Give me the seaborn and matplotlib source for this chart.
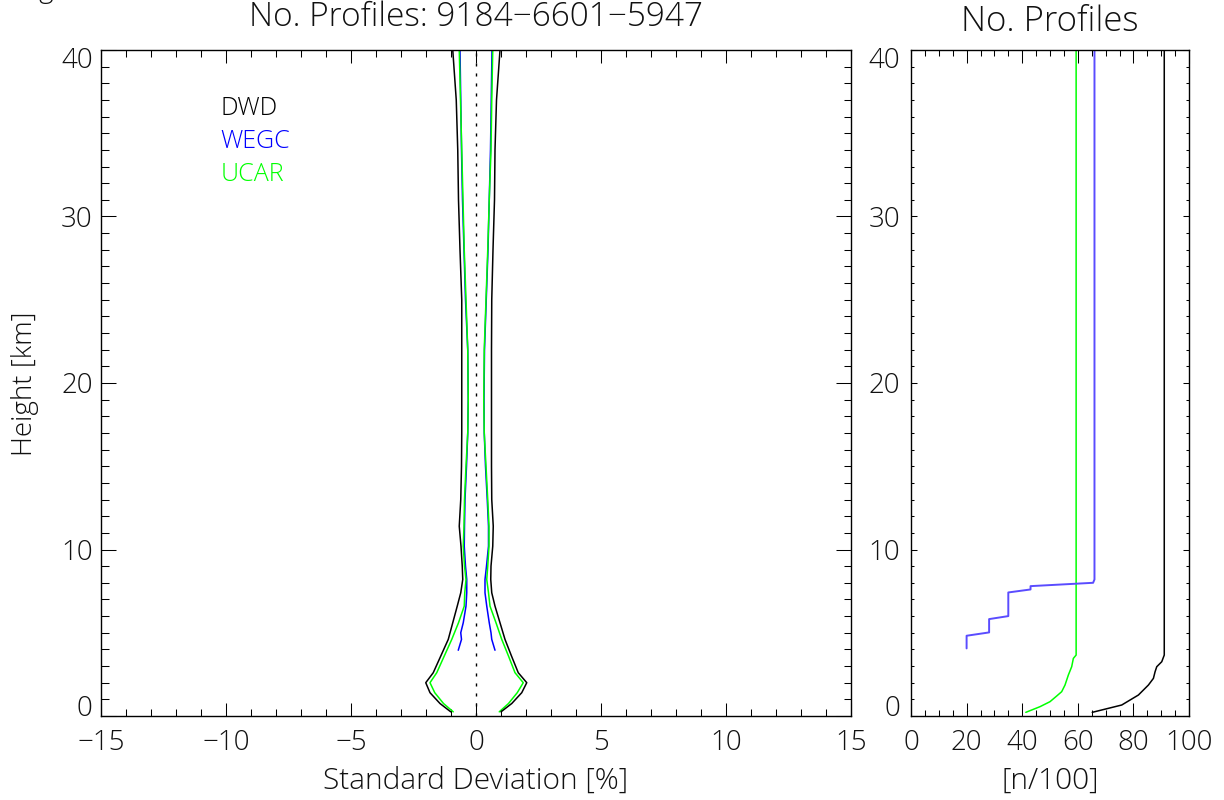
import numpy as np
import pandas as pd
import matplotlib
matplotlib.use("Agg")
import matplotlib.pyplot as plt
import matplotlib.transforms as mtransforms
from matplotlib.ticker import MultipleLocator, FixedLocator
import seaborn as sns

# ---------------- data ----------------
heights = [0.25, 0.75, 1.4, 2.0, 2.6, 3.6, 4.6, 5.6, 6.6, 7.4, 8.2, 9.0, 10.2,
           11.4, 13.0, 15, 17, 19, 22, 25, 28, 31, 34, 37, 40]
dwd_low = [-1.01, -1.44, -1.84, -2.01, -1.71, -1.41, -1.11, -0.93, -0.75, -0.61,
           -0.53, -0.55, -0.60, -0.67, -0.61, -0.58, -0.57, -0.57, -0.57, -0.57,
           -0.64, -0.70, -0.73, -0.79, -0.93]
dwd_up = [1.00, 1.43, 1.83, 2.03, 1.69, 1.42, 1.16, 0.96, 0.76, 0.63, 0.59, 0.60,
          0.67, 0.69, 0.63, 0.62, 0.62, 0.62, 0.62, 0.63, 0.68, 0.74, 0.76, 0.82, 0.96]
ucar_low = [-0.91, -1.30, -1.65, -1.84, -1.57, -1.27, -0.97, -0.70, -0.47, -0.45,
            -0.40, -0.46, -0.51, -0.48, -0.46, -0.40, -0.33, -0.31, -0.33, -0.40,
            -0.47, -0.52, -0.57, -0.62, -0.67]
ucar_up = [0.93, 1.30, 1.65, 1.89, 1.56, 1.30, 1.03, 0.80, 0.56, 0.50, 0.43, 0.47,
           0.52, 0.52, 0.47, 0.40, 0.33, 0.31, 0.33, 0.40, 0.47, 0.53, 0.60, 0.63, 0.67]

wegc_heights = [3.95, 4.6, 5.0, 5.6, 6.6, 7.4, 8.2, 9.0, 10.2, 11.4, 13.0, 15, 17,
                19, 22, 25, 28, 31, 34, 37, 40]
wegc_low = [-0.71, -0.58, -0.61, -0.51, -0.40, -0.37, -0.37, -0.42, -0.47, -0.46,
            -0.44, -0.38, -0.33, -0.31, -0.33, -0.42, -0.48, -0.54, -0.58, -0.61, -0.64]
wegc_up = [0.76, 0.63, 0.60, 0.53, 0.43, 0.36, 0.36, 0.42, 0.50, 0.50, 0.45, 0.38,
           0.33, 0.32, 0.34, 0.41, 0.48, 0.53, 0.58, 0.61, 0.64]

# number of profiles [n/100]
n_dwd_h = [0.22, 0.66, 1.26, 1.86, 2.26, 2.66, 2.96, 3.26, 3.66, 40.0]
n_dwd = [65.2, 75.8, 81.8, 85.4, 87.2, 87.8, 88.4, 90.2, 91.1, 91.1]
n_wegc_h = [4.06, 4.82, 5.02, 5.82, 6.0, 7.42, 7.6, 7.8, 8.0, 8.2, 40.0]
n_wegc = [20.0, 20.0, 28.1, 28.1, 35.0, 35.0, 43.0, 43.0, 65.5, 66.0, 66.0]
n_ucar_h = [0.22, 0.56, 0.86, 1.2, 1.46, 1.86, 2.46, 2.96, 3.46, 3.66, 40.0]
n_ucar = [41.3, 46.4, 50.0, 52.4, 54.2, 55.4, 56.6, 57.8, 58.4, 59.4, 59.4]

names = ["DWD", "WEGC", "UCAR"]
colors = ["black", "#0000ff", "#00ff00"]
title_left = "No. Profiles: 9184\u22126601\u22125947"
title_right = "No. Profiles"
xlabel_left = "Standard Deviation [%]"
xlabel_right = "[n/100]"
ylabel = "Height [km]"
left_xticks = [-15, -10, -5, 0, 5, 10, 15]
right_xticks = [0, 20, 40, 60, 80, 100]
yticks = [0, 10, 20, 30, 40]

# ---------------- style ----------------
sns.set_theme(style="white")
plt.rcParams["font.family"] = ["Open Sans", "DejaVu Sans"]
plt.rcParams["font.weight"] = "light"
plt.rcParams["axes.unicode_minus"] = True
plt.rcParams["text.color"] = "#111111"
plt.rcParams["xtick.color"] = "black"
plt.rcParams["ytick.color"] = "black"
TXT = "#111111"

W, H = 1224, 800
fig = plt.figure(figsize=(W / 100, H / 100), dpi=100)
ax1 = fig.add_axes([101 / W, 84 / H, 750 / W, 666 / H])
ax2 = fig.add_axes([911 / W, 84 / H, 278 / W, 666 / H])

def draw(ax, x, y, color, lw):
    df = pd.DataFrame({"x": x, "y": y})
    sns.lineplot(data=df, x="x", y="y", sort=False, estimator=None,
                 color=color, lw=lw, ax=ax)

# left panel
ax1.axvline(0, color="black", lw=1.0, ls=(0, (2.2, 5)))
draw(ax1, wegc_low, wegc_heights, colors[1], 1.1)
draw(ax1, wegc_up, wegc_heights, colors[1], 1.1)
draw(ax1, ucar_low, heights, colors[2], 1.1)
draw(ax1, ucar_up, heights, colors[2], 1.1)
draw(ax1, dwd_low, heights, colors[0], 1.1)
draw(ax1, dwd_up, heights, colors[0], 1.1)

# right panel
draw(ax2, n_dwd, n_dwd_h, colors[0], 1.1)
draw(ax2, n_ucar, n_ucar_h, colors[2], 1.1)
draw(ax2, n_wegc, n_wegc_h, "#5a4cff", 1.4)

fs_tick = 20
for ax in (ax1, ax2):
    ax.set_ylim(0, 40)
    ax.set_xlabel("")
    ax.set_ylabel("")
    for s in ax.spines.values():
        s.set_visible(True)
        s.set_color("black")
        s.set_linewidth(1.0)
    ax.yaxis.set_major_locator(FixedLocator(yticks))
    ax.yaxis.set_minor_locator(MultipleLocator(1))

ax1.set_xlim(-15, 15)
ax1.xaxis.set_major_locator(FixedLocator(left_xticks))
ax1.xaxis.set_minor_locator(MultipleLocator(1))
ax2.set_xlim(0, 100)
ax2.xaxis.set_major_locator(FixedLocator(right_xticks))
ax2.xaxis.set_minor_locator(MultipleLocator(5))

common = dict(direction="in", top=True, right=True, bottom=True, left=True,
              colors="black", width=0.75)
ax1.tick_params(axis="x", which="major", length=9.4, pad=9, labelsize=fs_tick, labelcolor=TXT, **common)
ax1.tick_params(axis="x", which="minor", length=5, **common)
ax1.tick_params(axis="y", which="major", length=10.8, pad=6, labelsize=fs_tick, labelcolor=TXT, **common)
ax1.tick_params(axis="y", which="minor", length=5.4, **common)
ax2.tick_params(axis="x", which="major", length=9.4, pad=9, labelsize=fs_tick, labelcolor=TXT, **common)
ax2.tick_params(axis="x", which="minor", length=4.5, **common)
ax2.tick_params(axis="y", which="major", length=4.0, pad=8, labelsize=fs_tick, labelcolor=TXT, **common)
ax2.tick_params(axis="y", which="minor", length=2.0, **common)

ax1.set_xticklabels([f"{v}".replace("-", "\u2212") for v in left_xticks])
ax2.set_xticklabels([str(v) for v in right_xticks])
ax1.set_yticklabels([str(v) for v in yticks])
ax2.set_yticklabels([str(v) for v in yticks])

# IDL-style: end labels kept inside the axis range
for ax in (ax1, ax2):
    for t in ax.yaxis.get_major_ticks():
        lab = t.label1
        if lab.get_text() == "0":
            lab.set_transform(lab.get_transform() + mtransforms.ScaledTranslation(0, 11 / 100, fig.dpi_scale_trans))
        elif lab.get_text() == "40":
            lab.set_transform(lab.get_transform() + mtransforms.ScaledTranslation(0, -8 / 100, fig.dpi_scale_trans))

# labels
fig.text(476 / W, 1 - 781 / H, xlabel_left, ha="center", va="center", fontsize=21.5)
fig.text(1050 / W, 1 - 781 / H, xlabel_right, ha="center", va="center", fontsize=21.5)
fig.text(25 / W, 1 - 384 / H, ylabel, ha="center", va="center", rotation=90, fontsize=20)
fig.text(476 / W, 1 - 17 / H, title_left, ha="center", va="center", fontsize=24)
fig.text(1050 / W, 1 - 22 / H, title_right, ha="center", va="center", fontsize=25)
fig.text(46 / W, 1 + 3 / H, "g", ha="center", va="baseline", fontsize=20)

# legend as coloured text
for i, (nm, c) in enumerate(zip(names, colors)):
    ax1.text(0.159, 0.912 - i * 0.0495, nm, color=c, transform=ax1.transAxes,
             ha="left", va="center", fontsize=18)

fig.savefig("out.png", dpi=100)
